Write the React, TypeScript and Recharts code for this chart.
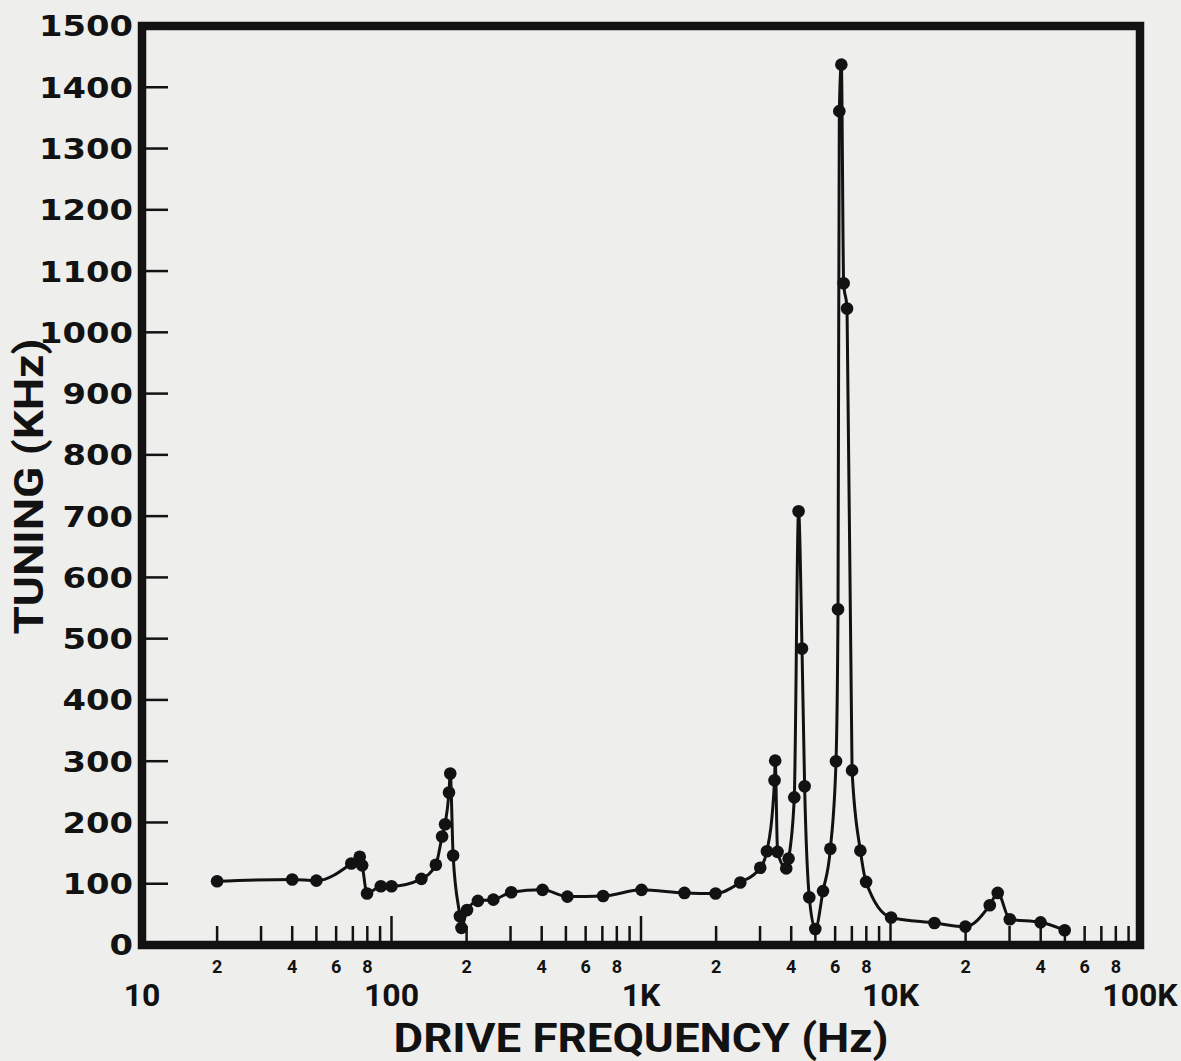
import React from "react";
import { LineChart, Line, XAxis, YAxis, ReferenceArea } from "recharts";

// Drive frequency (Hz) of each measured point
const frequencyHz = [
  20, 40, 50, 69, 74.6, 76.3, 79.8, 90.6, 100, 131.8, 150.6, 159.5, 164, 170, 172, 176.6,
  188, 190.7, 200.8, 222, 256, 302, 403, 507, 705, 1005, 1493, 1990, 2500, 3006, 3197,
  3430, 3450, 3527, 3821, 3904, 4115, 4281, 4419, 4527, 4726, 4995, 5364, 5740, 6048,
  6161, 6235, 6354, 6489, 6696, 7014, 7573, 7984, 10056, 15000, 19960, 25000, 26900,
  30070, 39950, 49900,
];
// Tuning (KHz) at each point
const tuningKHz = [
  104, 107, 105, 133, 144, 130, 84, 96, 96, 108, 131, 177, 197, 249, 280, 146,
  47, 28, 57, 72, 74, 86, 90, 79, 80, 90, 85, 84, 102, 126, 153,
  269, 301, 152, 125, 141, 241, 708, 484, 259, 78, 26, 88, 157, 300,
  548, 1361, 1437, 1080, 1039, 285, 154, 103, 45, 36, 30, 65, 85,
  42, 37, 24,
];

const decadeTicks = [10, 100, 1000, 10000, 100000];
const decadeLabels = ["10", "100", "1K", "10K", "100K"];
const minorMultipliers = [2, 3, 4, 5, 6, 7, 8, 9];
const labeledMultipliers = ["2", "4", "6", "8"];
const yTicks = [0, 100, 200, 300, 400, 500, 600, 700, 800, 900, 1000, 1100, 1200, 1300, 1400, 1500];

const xTicks: number[] = [];
decadeTicks.forEach((d, i) => {
  xTicks.push(d);
  if (i < decadeTicks.length - 1) minorMultipliers.forEach((m) => xTicks.push(d * m));
});

const data = frequencyHz.map((f, i) => ({ f, t: tuningKHz[i] }));

const INK = "#121212";
const COND = "Roboto, 'Liberation Sans', sans-serif";

const XTick = (props: any) => {
  const { x, y, payload } = props;
  const v = payload.value as number;
  const e = Math.log10(v);
  const decIdx = decadeTicks.findIndex((d) => Math.abs(d - v) < 1e-6);
  const isDecade = decIdx >= 0;
  const lead = String(Math.round(v / Math.pow(10, Math.floor(e + 1e-9))));
  const small = !isDecade && labeledMultipliers.includes(lead);
  return (
    <g>
      <line x1={x} x2={x} y1={y} y2={y - (isDecade ? 29 : 19)} stroke={INK} strokeWidth={2.5} />
      {small && (
        <text x={x} y={y + 22} dy="0.36em" textAnchor="middle" fontFamily={COND} fontWeight="bold" fontSize={18} fill={INK}>
          {lead}
        </text>
      )}
      {isDecade && (
        <text x={x} y={y + 49} dy="0.36em" textAnchor="middle" fontFamily={COND} fontWeight="bold" fontSize={32} fill={INK}>
          {decadeLabels[decIdx]}
        </text>
      )}
    </g>
  );
};

const YTick = (props: any) => {
  const { x, y, payload } = props;
  const label = String(payload.value);
  return (
    <g>
      <line x1={x} x2={x + 26} y1={y} y2={y} stroke={INK} strokeWidth={2.5} />
      <text
        x={x - 9}
        y={y}
        dy="0.36em"
        textAnchor="end"
        fontFamily="'DejaVu Sans', sans-serif"
        fontWeight="bold"
        fontSize={29}
        textLength={label.length * 23.5}
        lengthAdjust="spacingAndGlyphs"
        fill={INK}
      >
        {label}
      </text>
    </g>
  );
};

const XTitle = (props: any) => {
  const vb = props.viewBox || { x: 142, y: 945, width: 998, height: 116 };
  const cx = vb.x + vb.width / 2;
  return (
    <text x={cx} y={vb.y + 92} dy="0.36em" textAnchor="middle" fontFamily={COND} fontWeight="bold" fontSize={41}
      textLength={495} lengthAdjust="spacingAndGlyphs" fill={INK}>
      DRIVE FREQUENCY (Hz)
    </text>
  );
};

const YTitle = (props: any) => {
  const vb = props.viewBox || { x: 0, y: 26, width: 142, height: 919 };
  const cx = vb.x + 28;
  const cy = vb.y + vb.height / 2 + 1;
  return (
    <text x={cx} y={cy} dy="0.36em" textAnchor="middle" fontFamily={COND} fontWeight="bold" fontSize={41}
      textLength={296} lengthAdjust="spacingAndGlyphs" fill={INK} transform={`rotate(-90 ${cx} ${cy})`}>
      TUNING (KHz)
    </text>
  );
};

export default function App() {
  return (
    <div style={{ position: "fixed", left: 0, top: 0, width: 1181, height: 1061, background: "#eeeeec" }}>
      <LineChart width={1181} height={1061} data={data} margin={{ top: 26, right: 41, left: 0, bottom: 0 }}>
        <XAxis
          dataKey="f"
          type="number"
          scale="log"
          domain={[10, 100000]}
          ticks={xTicks}
          interval={0}
          allowDataOverflow
          axisLine={false}
          tickLine={false}
          tickSize={0}
          tickMargin={0}
          height={116}
          tick={<XTick />}
          label={{ content: <XTitle /> } as any}
        />
        <YAxis
          type="number"
          domain={[0, 1500]}
          ticks={yTicks}
          interval={0}
          allowDataOverflow
          axisLine={false}
          tickLine={false}
          tickSize={0}
          tickMargin={0}
          width={142}
          tick={<YTick />}
          label={{ content: <YTitle /> } as any}
        />
        <ReferenceArea x1={10} x2={100000} y1={0} y2={1500} fill="none" stroke={INK} strokeWidth={8.5} ifOverflow="visible" />
        <Line
          type="monotone"
          dataKey="t"
          stroke={INK}
          strokeWidth={3}
          dot={{ r: 6.3, fill: INK, stroke: "none" }}
          isAnimationActive={false}
        />
      </LineChart>
    </div>
  );
}
